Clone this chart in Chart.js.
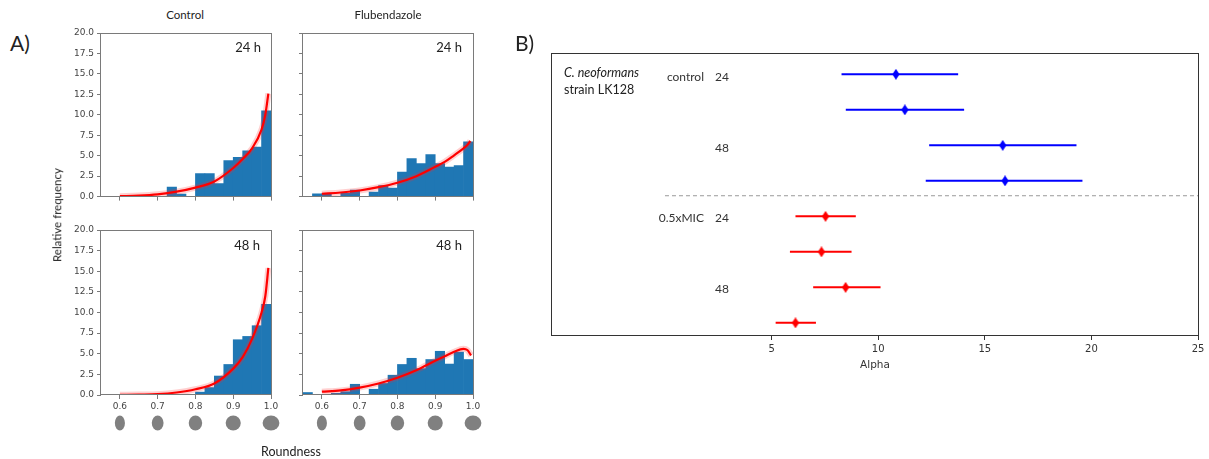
<!DOCTYPE html>
<html>
<head>
<meta charset="utf-8">
<script src="https://cdn.jsdelivr.net/npm/chart.js@4.4.0/dist/chart.umd.min.js"></script>
<style>
html,body{margin:0;padding:0;background:#fff;width:1209px;height:459px;overflow:hidden;position:relative;font-family:Lato,'Open Sans',sans-serif;}
canvas{position:absolute;}
.t{position:absolute;white-space:nowrap;line-height:1;color:#222;}
</style>
</head>
<body>
<canvas id="c24" width="222" height="182" style="left:61px;top:23px"></canvas>
<canvas id="f24" width="222" height="182" style="left:263px;top:23px"></canvas>
<canvas id="c48" width="222" height="220" style="left:61px;top:220px"></canvas>
<canvas id="f48" width="222" height="220" style="left:263px;top:220px"></canvas>
<canvas id="pb" width="669" height="332" style="left:540px;top:40px"></canvas>
<script>
// ---------------- DATA ----------------
// Panel A: histogram bins (left edges), relative frequencies, fitted curve
const binLeft = [0.55,0.575,0.6,0.625,0.65,0.675,0.7,0.725,0.75,0.775,0.8,0.825,0.85,0.875,0.9,0.925,0.95,0.975];
const binWidth = 0.025;
const ctrl24Freq = [0,0,0,0,0,0,0,1.15,0.3,0,2.8,2.8,1.6,4.4,4.8,5.6,6.05,10.5];
const ctrl48Freq = [0,0,0,0,0,0,0,0,0,0,0.35,0.9,2.3,3.7,6.7,7.1,8.4,11.0];
const flu24Freq  = [0,0.33,0.33,0,0.4,0.8,0,0.55,1.35,1.05,3.0,4.65,4.05,5.15,4.05,3.6,3.8,6.7];
const flu48Freq  = [0.3,0,0,0.2,0.4,1.3,0,0.7,1.4,2.4,3.7,4.45,3.2,4.3,5.3,3.75,5.2,4.3];

const fitX      = [0.6,0.65,0.7,0.75,0.8,0.85,0.9,0.925,0.95,0.975,0.985,0.993];
const ctrl24Fit = [0.05,0.12,0.28,0.6,1.1,1.85,3.5,4.6,5.9,8.2,10.0,12.6];
const ctrl48Fit = [0.02,0.05,0.1,0.3,0.7,1.4,3.2,4.6,6.8,10.0,12.0,15.4];
const flu24Fit  = [0.35,0.5,0.75,1.15,1.7,2.5,3.65,4.25,5.05,5.9,6.3,6.8];
const flu48FitX = [0.6,0.65,0.7,0.75,0.8,0.85,0.9,0.925,0.95,0.975,0.985,0.995];
const flu48Fit  = [0.4,0.55,0.9,1.4,2.1,3.0,4.15,4.7,5.25,5.6,5.45,4.8];

const freqTicks  = [0,2.5,5,7.5,10,12.5,15,17.5,20];
const roundTicks = [0.6,0.7,0.8,0.9,1.0];

// Panel B: alpha estimates with intervals
const rowIndex   = [0,1,2,3,4,5,6,7];
const rowGroup   = ['control','control','control','control','0.5xMIC','0.5xMIC','0.5xMIC','0.5xMIC'];
const alphaMean  = [10.83,11.25,15.84,15.95,7.53,7.34,8.47,6.12];
const alphaLow   = [8.28,8.48,12.39,12.23,6.12,5.86,6.95,5.19];
const alphaHigh  = [13.75,14.03,19.30,19.58,8.95,8.75,10.11,7.08];
const alphaTicks = [5,10,15,20,25];
const separatorRow = 3.42;
const groupColor = {'control':'#0000ff','0.5xMIC':'#ff0000'};

// ---------------- PLUGINS ----------------
const framePlugin = {
  id:'frame',
  afterDraw(chart, args, o){
    const {ctx, chartArea:{left,top,right,bottom}} = chart;
    ctx.save();
    ctx.strokeStyle = o.color || '#777';
    ctx.lineWidth = o.width || 1;
    ctx.strokeRect(Math.round(left)-0.5, Math.round(top)+0.5, Math.round(right-left)+1, Math.round(bottom-top)-1);
    ctx.restore();
  }
};
const ellipsePlugin = {
  id:'ellipses',
  afterDraw(chart, args, o){
    if(!o.show) return;
    const ctx = chart.ctx, xs = chart.scales.x;
    ctx.save();
    ctx.fillStyle = '#808080';
    roundTicks.forEach(v=>{
      const px = xs.getPixelForValue(v);
      ctx.beginPath();
      ctx.ellipse(px, o.y, 8.4*v, 7.6, 0, 0, Math.PI*2);
      ctx.fill();
    });
    ctx.restore();
  }
};

// ---------------- PANEL A ----------------
function makeHist(id, freq, fx, fy, showX, showY, xHeight, ellY){
  const curve = fx.map((x,i)=>({x:x, y:fy[i]}));
  new Chart(document.getElementById(id), {
    type:'bar',
    data:{datasets:[
      {type:'line', data:curve, borderColor:'#ff0000', borderWidth:2.2, pointRadius:0, cubicInterpolationMode:'monotone', order:1},
      {type:'line', data:curve, borderColor:'rgba(255,40,40,0.22)', borderWidth:6, pointRadius:0, cubicInterpolationMode:'monotone', order:2},
      {type:'bar', data:binLeft.map((b,i)=>({x:b+binWidth/2, y:freq[i]})), backgroundColor:'#1f77b4', borderWidth:0, barPercentage:1, categoryPercentage:1, order:3}
    ]},
    options:{
      responsive:false, animation:false, devicePixelRatio:1,
      layout:{padding:{top:10,right:12,left:0,bottom:0}},
      plugins:{legend:{display:false}, tooltip:{enabled:false}, title:{display:false},
        frame:{color:'#7a7a7a', width:1}, ellipses:{show:!!ellY, y:ellY}},
      scales:{
        x:{type:'linear', min:0.55, max:1.0, offset:false,
           afterBuildTicks:s=>{s.ticks = roundTicks.map(v=>({value:v}));},
           afterFit:s=>{s.height = xHeight;},
           grid:{drawOnChartArea:false, drawTicks:true, tickLength:4, color:'#7a7a7a', offset:false},
           border:{display:false},
           ticks:{autoSkip:false, maxRotation:0, padding:2, color:'#444', font:{family:'DejaVu Sans', size:9},
                  callback:v=> showX ? Number(v).toFixed(1) : ''}},
        y:{type:'linear', min:0, max:20,
           afterBuildTicks:s=>{s.ticks = freqTicks.map(v=>({value:v}));},
           afterFit:s=>{s.width = 40;},
           grid:{drawOnChartArea:false, drawTicks:true, tickLength:4, color:'#7a7a7a'},
           border:{display:false},
           ticks:{autoSkip:false, padding:3, color:'#444', font:{family:'DejaVu Sans', size:9},
                  callback:v=> showY ? Number(v).toFixed(1) : ''}}
      }
    },
    plugins:[framePlugin, ellipsePlugin]
  });
}
makeHist('c24', ctrl24Freq, fitX, ctrl24Fit, false, true, 8, null);
makeHist('f24', flu24Freq, fitX, flu24Fit, false, false, 8, null);
makeHist('c48', ctrl48Freq, fitX, ctrl48Fit, true, true, 45, 203);
makeHist('f48', flu48Freq, flu48FitX, flu48Fit, true, false, 45, 203);

// ---------------- PANEL B ----------------
function diamond(color){
  const c = document.createElement('canvas'); c.width = 8; c.height = 11;
  const x = c.getContext('2d'); x.fillStyle = color;
  x.beginPath(); x.moveTo(4,0); x.lineTo(7.6,5.5); x.lineTo(4,11); x.lineTo(0.4,5.5); x.closePath(); x.fill();
  return c;
}
const diamonds = {'control':diamond(groupColor['control']), '0.5xMIC':diamond(groupColor['0.5xMIC'])};
const dsB = [];
rowIndex.forEach((r,i)=>{
  dsB.push({data:[{x:alphaLow[i],y:r},{x:alphaHigh[i],y:r}], showLine:true, borderColor:groupColor[rowGroup[i]], borderWidth:2, pointRadius:0});
});
dsB.push({data:rowIndex.map((r,i)=>({x:alphaMean[i],y:r})), showLine:false, pointRadius:5,
  pointStyle:rowIndex.map((r,i)=>diamonds[rowGroup[i]])});
dsB.push({data:[{x:0,y:separatorRow},{x:25,y:separatorRow}], showLine:true, borderColor:'#9a9a9a', borderWidth:1, borderDash:[4,3], pointRadius:0});

new Chart(document.getElementById('pb'), {
  type:'scatter',
  data:{datasets:dsB},
  options:{
    responsive:false, animation:false, devicePixelRatio:1,
    layout:{padding:{top:13,right:11,left:12,bottom:0}},
    plugins:{legend:{display:false}, tooltip:{enabled:false}, frame:{color:'#333', width:1}},
    scales:{
      x:{type:'linear', min:-5.3, max:25,
         afterBuildTicks:s=>{s.ticks = alphaTicks.map(v=>({value:v}));},
         afterFit:s=>{s.height = 36;},
         grid:{drawOnChartArea:false, drawTicks:true, tickLength:4, color:'#333'},
         border:{display:false},
         ticks:{autoSkip:false, maxRotation:0, padding:3, color:'#333', font:{family:'DejaVu Sans', size:10}},
         title:{display:true, text:'Alpha', color:'#333', font:{family:'DejaVu Sans', size:10.5}, padding:{top:0,bottom:0}}},
      y:{type:'linear', display:false, reverse:true, min:-0.6, max:7.37}
    }
  },
  plugins:[framePlugin]
});

// ---------------- TEXT ----------------
function addText(txt, x, y, o){
  o = o || {};
  const d = document.createElement('div');
  d.className = 't';
  d.textContent = txt;
  d.style.left = x+'px'; d.style.top = y+'px';
  d.style.fontSize = (o.size||12)+'px';
  if(o.italic) d.style.fontStyle = 'italic';
  if(o.color) d.style.color = o.color;
  const a = o.anchor||'left';
  let tr = a==='center' ? 'translate(-50%,-50%)' : a==='right' ? 'translate(-100%,-50%)' : 'translate(0,-50%)';
  if(o.rotate) tr += ' rotate('+o.rotate+'deg)';
  d.style.transform = tr;
  document.body.appendChild(d);
}
addText('A)', 10, 42, {size:21});
addText('B)', 515, 42, {size:21});
addText('Control', 185, 15, {size:11.5, anchor:'center'});
addText('Flubendazole', 388, 15, {size:11.5, anchor:'center'});
addText('Relative frequency', 57, 215, {size:11.5, anchor:'center', rotate:-90});
addText('Roundness', 291, 452, {size:12.5, anchor:'center'});
addText('24 h', 261, 47, {size:13, anchor:'right'});
addText('24 h', 462, 47, {size:13, anchor:'right'});
addText('48 h', 260, 245, {size:13, anchor:'right'});
addText('48 h', 462, 245, {size:13, anchor:'right'});

addText('C. neoformans', 564, 73, {size:12.5, italic:true});
addText('strain LK128', 564, 90, {size:12.5});
addText('control', 704, 77, {size:12, anchor:'right', color:'#333'});
addText('24', 715, 77, {size:12, color:'#333'});
addText('48', 715, 148, {size:12, color:'#333'});
addText('0.5xMIC', 704, 218, {size:12, anchor:'right', color:'#333'});
addText('24', 715, 218, {size:12, color:'#333'});
addText('48', 715, 289, {size:12, color:'#333'});
</script>
</body>
</html>
